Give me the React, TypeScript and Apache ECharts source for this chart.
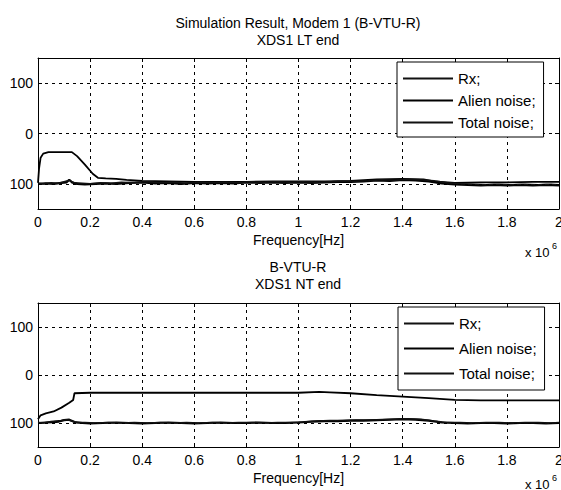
import React, { useEffect, useRef } from 'react';
import * as echarts from 'echarts';

const FONT = 'Liberation Sans, Arial, sans-serif';

const legendNames = ['Rx;', 'Alien noise;', 'Total noise;'];
const topTitles = ['Simulation Result, Modem 1 (B-VTU-R)', 'XDS1 LT end'];
const bottomTitles = ['B-VTU-R', 'XDS1 NT end'];
const xAxisName = 'Frequency[Hz]';
const yGridValues = [-100, 0, 100];

// ---- Top panel (XDS1 LT end), x in units of 1e6 Hz ----
const topRx: number[][] = [
  [0, -98], [0.004, -70], [0.01, -48], [0.02, -40], [0.04, -37], [0.08, -37], [0.13, -37],
  [0.15, -45], [0.18, -62], [0.21, -80], [0.23, -88], [0.26, -89], [0.3, -90], [0.34, -92],
  [0.4, -94], [0.5, -95], [0.6, -96], [0.7, -96], [0.8, -96], [0.9, -95], [1.0, -95],
  [1.1, -95], [1.2, -94], [1.3, -91], [1.4, -90], [1.48, -91], [1.52, -95], [1.6, -98],
  [1.7, -97], [1.8, -97], [1.9, -96], [2.0, -96],
];
const topAlien: number[][] = [
  [0, -100], [0.03, -99], [0.06, -100], [0.09, -98], [0.11, -97], [0.12, -92], [0.13, -97],
  [0.15, -100], [0.18, -101], [0.22, -100], [0.26, -99], [0.3, -100], [0.35, -98], [0.4, -97],
  [0.45, -99], [0.5, -98], [0.55, -100], [0.6, -98], [0.65, -99], [0.7, -98], [0.75, -99],
  [0.8, -97], [0.85, -98], [0.9, -97], [0.95, -98], [1.0, -97], [1.05, -98], [1.1, -97],
  [1.15, -96], [1.2, -96], [1.25, -95], [1.3, -93], [1.35, -94], [1.4, -92], [1.45, -93],
  [1.5, -95], [1.55, -99], [1.6, -101], [1.65, -102], [1.7, -103], [1.75, -102], [1.8, -103],
  [1.85, -102], [1.9, -103], [1.95, -102], [2.0, -103],
];
const topTotal: number[][] = [
  [0, -99], [0.02, -100], [0.05, -98], [0.08, -99], [0.1, -96], [0.12, -93], [0.14, -98],
  [0.17, -99], [0.2, -100], [0.24, -98], [0.28, -99], [0.32, -97], [0.37, -98], [0.42, -96],
  [0.47, -98], [0.52, -97], [0.57, -99], [0.62, -97], [0.67, -98], [0.72, -97], [0.77, -98],
  [0.82, -96], [0.87, -97], [0.92, -96], [0.97, -97], [1.02, -96], [1.07, -97], [1.12, -96],
  [1.17, -95], [1.22, -95], [1.27, -94], [1.32, -92], [1.37, -93], [1.42, -91], [1.47, -92],
  [1.52, -94], [1.57, -98], [1.62, -100], [1.67, -101], [1.72, -102], [1.77, -101], [1.82, -102],
  [1.87, -101], [1.92, -102], [1.97, -101], [2.0, -102],
];

// ---- Bottom panel (XDS1 NT end) ----
const botRx: number[][] = [
  [0, -92], [0.01, -84], [0.03, -80], [0.06, -76], [0.09, -68], [0.12, -58], [0.135, -52],
  [0.14, -38], [0.2, -37], [0.4, -37], [0.6, -37], [0.8, -37], [1.0, -37], [1.08, -35],
  [1.12, -36], [1.2, -38], [1.3, -42], [1.4, -45], [1.5, -48], [1.6, -52], [1.7, -53],
  [1.8, -53], [2.0, -53],
];
const botAlien: number[][] = [
  [0, -100], [0.03, -99], [0.06, -98], [0.08, -97], [0.1, -94], [0.12, -93], [0.14, -98],
  [0.17, -100], [0.2, -101], [0.25, -100], [0.3, -99], [0.35, -100], [0.4, -101], [0.45, -100],
  [0.5, -99], [0.55, -100], [0.6, -101], [0.65, -100], [0.7, -99], [0.75, -100], [0.8, -100],
  [0.85, -99], [0.9, -100], [0.95, -100], [1.0, -99], [1.05, -97], [1.1, -96], [1.15, -96],
  [1.2, -95], [1.25, -95], [1.3, -94], [1.35, -93], [1.4, -92], [1.45, -93], [1.5, -95],
  [1.55, -99], [1.6, -100], [1.65, -101], [1.7, -100], [1.75, -100], [1.8, -101], [1.85, -100],
  [1.9, -100], [1.95, -101], [2.0, -100],
];
const botTotal: number[][] = [
  [0, -99], [0.02, -100], [0.05, -97], [0.09, -95], [0.11, -93], [0.13, -96], [0.15, -99],
  [0.18, -99], [0.22, -100], [0.27, -99], [0.32, -100], [0.37, -99], [0.42, -100], [0.47, -99],
  [0.52, -100], [0.57, -99], [0.62, -100], [0.67, -99], [0.72, -100], [0.77, -99], [0.82, -99],
  [0.87, -100], [0.92, -99], [0.97, -99], [1.02, -98], [1.07, -96], [1.12, -95], [1.17, -95],
  [1.22, -94], [1.27, -94], [1.32, -93], [1.37, -92], [1.42, -91], [1.47, -92], [1.52, -96],
  [1.57, -99], [1.62, -99], [1.67, -100], [1.72, -99], [1.77, -99], [1.82, -100], [1.87, -99],
  [1.92, -99], [1.97, -100], [2.0, -99],
];

const BLACK = '#000';
const dash = [3, 4];

function xAxes(gridIndex: number) {
  return [
    {
      type: 'value', gridIndex, min: 0, max: 2, interval: 0.2, position: 'bottom',
      axisLine: { show: true, onZero: false, lineStyle: { color: BLACK, width: 1 } },
      axisTick: { show: true, inside: true, length: 4, lineStyle: { color: BLACK } },
      axisLabel: {
        color: BLACK, fontSize: 14, fontFamily: FONT, margin: 6,
        showMinLabel: true, showMaxLabel: true, hideOverlap: false,
        formatter: (v: number) => String(Number(v.toFixed(1))),
      },
      splitLine: { show: true, lineStyle: { color: BLACK, width: 1, type: dash } },
      name: xAxisName, nameLocation: 'middle', nameGap: 24,
      nameTextStyle: { color: BLACK, fontSize: 14, fontFamily: FONT },
    },
    {
      type: 'value', gridIndex, min: 0, max: 2, interval: 0.2, position: 'top',
      axisLine: { show: true, onZero: false, lineStyle: { color: BLACK, width: 1 } },
      axisTick: { show: true, inside: true, length: 4, lineStyle: { color: BLACK } },
      axisLabel: { show: false },
      splitLine: { show: false },
    },
  ];
}

function yAxes(gridIndex: number) {
  return [
    {
      type: 'value', gridIndex, min: -150, max: 150, interval: 50, position: 'left',
      axisLine: { show: true, onZero: false, lineStyle: { color: BLACK, width: 1 } },
      axisTick: { show: true, inside: true, length: 4, lineStyle: { color: BLACK }, customValues: yGridValues },
      axisLabel: {
        color: BLACK, fontSize: 14, fontFamily: FONT, margin: 5,
        customValues: yGridValues,
        formatter: (v: number) => (yGridValues.indexOf(v) >= 0 ? String(Math.abs(v)) : ''),
      },
      splitLine: { show: false },
    },
    {
      type: 'value', gridIndex, min: -150, max: 150, interval: 50, position: 'right',
      axisLine: { show: true, onZero: false, lineStyle: { color: BLACK, width: 1 } },
      axisTick: { show: true, inside: true, length: 4, lineStyle: { color: BLACK }, customValues: yGridValues },
      axisLabel: { show: false },
      splitLine: { show: false },
    },
  ];
}

function panelSeries(axisIndex: number, rx: number[][], alien: number[][], total: number[][]) {
  const base = {
    type: 'line', xAxisIndex: axisIndex, yAxisIndex: axisIndex,
    symbol: 'none', showSymbol: false, silent: true,
  };
  return [
    {
      ...base, name: legendNames[0], data: rx, z: 3,
      lineStyle: { color: BLACK, width: 1.8 }, itemStyle: { color: BLACK },
      markLine: {
        silent: true, symbol: ['none', 'none'], label: { show: false },
        lineStyle: { color: BLACK, width: 1, type: dash },
        data: yGridValues.map((v) => ({ yAxis: v })),
      },
    },
    {
      ...base, name: legendNames[1], data: alien, z: 3,
      lineStyle: { color: BLACK, width: 2.2 }, itemStyle: { color: BLACK },
    },
    {
      ...base, name: legendNames[2], data: total, z: 3,
      lineStyle: { color: '#111', width: 1.5 }, itemStyle: { color: BLACK },
    },
  ];
}

function legendBox(left: number, top: number, gap: number, padding: number[]) {
  return {
    left, top, orient: 'vertical',
    data: [
      { name: legendNames[0], itemStyle: { color: '#111' } },
      { name: legendNames[1], itemStyle: { color: BLACK } },
      { name: legendNames[2], itemStyle: { color: '#111' } },
    ],
    icon: 'rect',
    backgroundColor: '#fff', borderColor: BLACK, borderWidth: 1, borderRadius: 0,
    padding, itemWidth: 50, itemHeight: 2, itemGap: gap,
    selectedMode: false, z: 10,
    textStyle: { color: BLACK, fontSize: 15, fontFamily: FONT, lineHeight: 14 },
  };
}

function text(str: string, x: number, y: number, size = 14, align = 'center') {
  return {
    type: 'text', x, y, silent: true,
    style: { text: str, fill: BLACK, font: `${size}px ${FONT}`, textAlign: align, textVerticalAlign: 'middle' },
  };
}

export default function App() {
  const ref = useRef<HTMLDivElement>(null);
  useEffect(() => {
    const chart = echarts.init(ref.current!, null, { renderer: 'svg' });
    const option: any = {
      animation: false,
      backgroundColor: '#fff',
      grid: [
        { left: 38, top: 58, width: 521, height: 151, show: false, outerBoundsMode: 'none', containLabel: false },
        { left: 38, top: 303, width: 521, height: 144, show: false, outerBoundsMode: 'none', containLabel: false },
      ],
      xAxis: [...xAxes(0), ...xAxes(1)],
      yAxis: [...yAxes(0), ...yAxes(1)],
      legend: [legendBox(397, 62, 7, [9, 8, 7, 6]), legendBox(398, 307, 10, [9, 8, 9, 6])],
      series: [
        ...panelSeries(0, topRx, topAlien, topTotal),
        ...panelSeries(2, botRx, botAlien, botTotal),
      ],
      graphic: [
        text(topTitles[0], 298, 23),
        text(topTitles[1], 298, 40),
        text(bottomTitles[0], 298, 267),
        text(bottomTitles[1], 298, 284),
        text('x 10', 525, 252, 13, 'left'),
        text('6', 552, 246, 9, 'left'),
        text('x 10', 525, 484, 13, 'left'),
        text('6', 552, 478, 9, 'left'),
      ],
    };
    chart.setOption(option);
    return () => chart.dispose();
  }, []);
  return (
    <div
      ref={ref}
      style={{ position: 'fixed', left: 0, top: 0, width: 561, height: 490, background: '#fff' }}
    />
  );
}
